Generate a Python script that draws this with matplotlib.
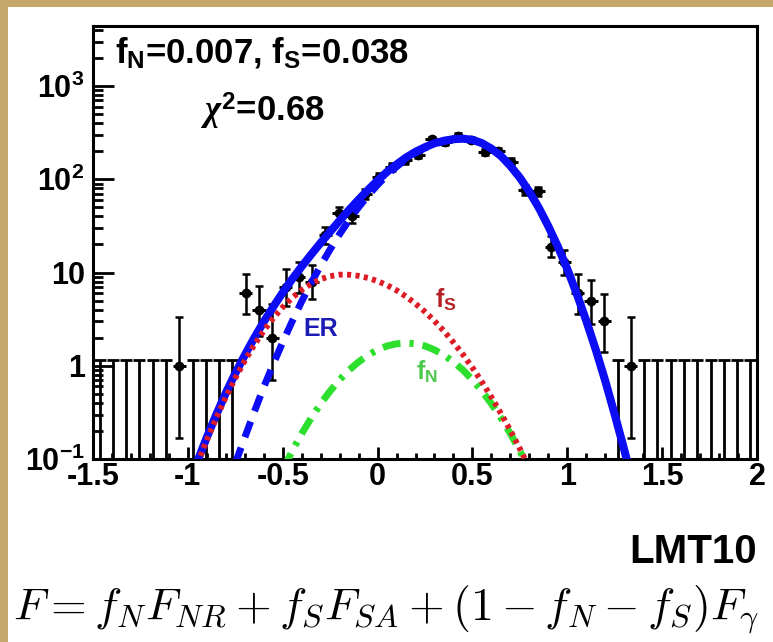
import numpy as np
import matplotlib
matplotlib.use('Agg')
import matplotlib.pyplot as plt
from matplotlib.patches import Rectangle
from matplotlib.ticker import LogLocator, MultipleLocator, NullFormatter

plt.rcParams['font.family'] = ['Liberation Sans', 'DejaVu Sans']
plt.rcParams['font.weight'] = 'bold'
plt.rcParams['mathtext.fontset'] = 'custom'
plt.rcParams['mathtext.rm'] = 'Liberation Sans:bold'
plt.rcParams['mathtext.bf'] = 'Liberation Sans:bold'
plt.rcParams['mathtext.sf'] = 'Liberation Sans:bold'
plt.rcParams['mathtext.it'] = 'Liberation Serif:italic'

# histogram of LMT10 (bin width 0.07)
bin_x = [-1.465, -1.395, -1.325, -1.255, -1.185, -1.115, -1.045, -0.975, -0.905, -0.835,
         -0.765, -0.695, -0.625, -0.555, -0.485, -0.415, -0.345, -0.275, -0.205, -0.135,
         -0.065, 0.005, 0.075, 0.145, 0.215, 0.285, 0.355, 0.425, 0.495, 0.565,
         0.635, 0.705, 0.775, 0.845, 0.915, 0.985, 1.055, 1.125, 1.195, 1.265,
         1.335, 1.405, 1.475, 1.545, 1.615, 1.685, 1.755, 1.825, 1.895, 1.965]
counts = [0, 0, 0, 0, 0, 0, 1, 0, 0, 0,
          0, 6, 4, 2, 7, 9, 8, 25, 43, 40,
          70, 105, 135, 160, 182, 269, 250, 292, 265, 198,
          200, 155, 77, 74, 19, 13, 6, 5, 3, 0,
          1, 0, 0, 0, 0, 0, 0, 0, 0, 0]
err_lo = [0, 0, 0, 0, 0, 0, 0.83, 0, 0, 0,
          0, 2.4, 1.9, 1.3, 2.6, 2.9, 2.8, 5.0, 6.6, 6.3,
          8.4, 10.2, 11.6, 12.6, 13.5, 16.4, 15.8, 17.1, 16.3, 14.1,
          14.1, 12.4, 8.8, 8.6, 4.4, 3.6, 2.4, 2.2, 1.6, 0,
          0.83, 0, 0, 0, 0, 0, 0, 0, 0, 0]
err_hi = [1.16, 1.16, 1.16, 1.16, 1.16, 1.16, 2.3, 1.16, 1.16, 1.16,
          1.16, 3.6, 3.2, 2.6, 3.8, 4.1, 4.0, 6.0, 7.6, 7.3,
          9.4, 11.2, 12.6, 13.6, 14.5, 17.4, 16.8, 18.1, 17.3, 15.1,
          15.1, 13.4, 9.8, 9.6, 5.4, 4.6, 3.6, 3.4, 2.9, 1.16,
          2.3, 1.16, 1.16, 1.16, 1.16, 1.16, 1.16, 1.16, 1.16, 1.16]

# fitted curves
tot_x = [-0.95, -0.90, -0.85, -0.80, -0.75, -0.70, -0.65, -0.60, -0.55, -0.50,
         -0.45, -0.40, -0.35, -0.30, -0.25, -0.20, -0.15, -0.10, -0.05, 0.00,
         0.05, 0.10, 0.15, 0.20, 0.25, 0.30, 0.35, 0.40, 0.45, 0.50,
         0.55, 0.60, 0.65, 0.70, 0.75, 0.80, 0.85, 0.90, 0.95, 1.00,
         1.05, 1.10, 1.15, 1.20, 1.25, 1.30, 1.35]
tot_y = [0.094, 0.171, 0.30, 0.51, 0.83, 1.30, 1.99, 2.96, 4.28, 6.1,
         8.5, 11.6, 15.6, 20.8, 27.4, 36, 47, 60.5, 77, 97,
         120, 144, 171, 197, 221, 243, 259, 269, 272, 265,
         244, 213, 178, 139, 104, 73.6, 49.4, 31.4, 19.0, 10.9,
         5.9, 3.04, 1.49, 0.69, 0.30, 0.126, 0.05]

er_x = tot_x[4:]
er_y = [0.09, 0.17, 0.32, 0.59, 1.04, 1.79, 3.0, 4.9, 7.7, 11.9,
        17.7, 25.8, 36.5, 50, 67, 87, 111, 136, 164, 191,
        216, 238, 255, 266, 270, 263, 243, 212, 177, 139,
        104, 73.5, 49.3, 31.4, 19.0, 10.9, 5.9, 3.04, 1.49, 0.69,
        0.30, 0.126, 0.05]

fs_x = tot_x[:36]
fs_y = [0.089, 0.160, 0.277, 0.460, 0.736, 1.13, 1.67, 2.37, 3.24, 4.25,
        5.36, 6.49, 7.57, 8.49, 9.14, 9.48, 9.46, 9.20, 8.74, 8.09,
        7.31, 6.44, 5.53, 4.63, 3.79, 3.02, 2.35, 1.78, 1.32, 0.953,
        0.671, 0.461, 0.309, 0.202, 0.129, 0.080]

fn_x = tot_x[9:36]
fn_y = [0.077, 0.122, 0.187, 0.275, 0.392, 0.536, 0.708, 0.90, 1.10, 1.30,
        1.48, 1.63, 1.72, 1.75, 1.72, 1.63, 1.48, 1.30, 1.10, 0.90,
        0.708, 0.536, 0.392, 0.275, 0.187, 0.122, 0.077]

xticks = [-1.5, -1, -0.5, 0, 0.5, 1, 1.5, 2]
xtick_labels = ['-1.5', '-1', '-0.5', '0', '0.5', '1', '1.5', '2']
yticks = [0.1, 1, 10, 100, 1000]
ytick_labels = [r'$\mathrm{10^{-1}}$', '1', '10', r'$\mathrm{10^{2}}$', r'$\mathrm{10^{3}}$']

W, H = 773, 642
fig = plt.figure(figsize=(W / 100, H / 100), dpi=100)
fig.patch.set_facecolor('#c6a76c')
fig.add_artist(Rectangle((8 / W, 0), 1, (H - 7) / H, transform=fig.transFigure,
                         facecolor='white', edgecolor='none', zorder=-5))

ax = fig.add_axes([93 / W, (H - 459) / H, (757 - 93) / W, (459 - 26) / H])
ax.set_yscale('log')
ax.set_xlim(-1.5, 2)
ax.set_ylim(0.1, 4400)

bx = np.array(bin_x)
n = np.array(counts, dtype=float)
lo = np.array(err_lo)
hi = np.array(err_hi)
full = n > 0
empty = ~full

# empty bins: only the upper error bar
ax.vlines(bx[empty], 1e-3, hi[empty], color='black', lw=2.0, zorder=2)
ax.plot(bx[empty], hi[empty], ls='none', marker='_', ms=8, mew=2.0, color='black', zorder=2)

ax.errorbar(bx[full], n[full], yerr=[lo[full], hi[full]], fmt='o', ms=6, color='black',
            elinewidth=1.8, capsize=3, capthick=1.8, zorder=2)
ax.hlines(n[full], bx[full] - 0.035, bx[full] + 0.035, color='black', lw=2.2, zorder=2)

ax.plot(tot_x, tot_y, color='#0c0cf5', lw=5.8, solid_capstyle='butt', zorder=3)
ax.plot(er_x, er_y, color='#0c0cf5', lw=5.0, dashes=(2.4, 1.6), dash_capstyle='butt', zorder=4)
ax.plot(fn_x, fn_y, color='#2ee02e', lw=5.0, dashes=(2.6, 1.3, 0.6, 1.3), dash_capstyle='butt', zorder=5)
ax.plot(fs_x, fs_y, color='#de1c28', lw=4.2, dashes=(0.7, 0.75), dash_capstyle='butt', zorder=6)

ax.text(-0.30, 2.5, 'ER', color='#1c1cb4', fontsize=18, ha='center', va='center')
ax.text(0.36, 5.1, r'f$_{\mathrm{S}}$', color='#b52025', fontsize=18, ha='center', va='center')
ax.text(0.26, 0.86, r'f$_{\mathrm{N}}$', color='#4cc84c', fontsize=18, ha='center', va='center')

ax.set_xticks(xticks, xtick_labels, fontsize=22)
ax.set_yticks(yticks, ytick_labels, fontsize=22)
ax.xaxis.set_minor_locator(MultipleLocator(0.1))
ax.yaxis.set_minor_locator(LogLocator(base=10, subs=range(2, 10)))
ax.yaxis.set_minor_formatter(NullFormatter())
ax.tick_params(axis='y', which='major', direction='in', length=15, width=2, pad=6)
ax.tick_params(axis='y', which='minor', direction='in', length=7, width=2)
ax.tick_params(axis='x', which='major', direction='in', length=9, width=2, pad=2)
ax.tick_params(axis='x', which='minor', direction='in', length=4.5, width=2)
ax.tick_params(top=False, right=False, which='both')
for s in ax.spines.values():
    s.set_linewidth(2.2)

fig.text(115 / W, (H - 63) / H, r'f$_{\mathrm{N}}$=0.007, f$_{\mathrm{S}}$=0.038', fontsize=25, va='baseline')
fig.text(200 / W, (H - 122) / H, r'$\chi^{2}$=0.68', fontsize=25, va='baseline')
fig.text(757 / W, (H - 563) / H, 'LMT10', fontsize=29, ha='right', va='baseline')
fig.text(0.5, (H - 610) / H, r'$F = f_N F_{NR} + f_S F_{SA} + (1 - f_N - f_S) F_{\gamma}$',
         math_fontfamily='cm', fontsize=33, fontweight='normal', ha='center', va='center')

fig.savefig('out.png', dpi=100, facecolor=fig.get_facecolor())
